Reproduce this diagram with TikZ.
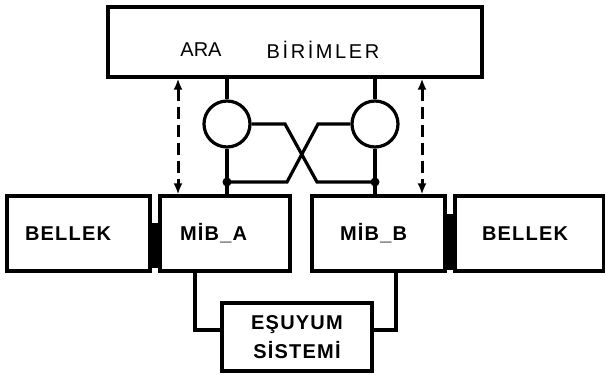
\documentclass[tikz,border=0pt]{standalone}
\usepackage{fontspec}
\setmainfont{Liberation Sans}
\usetikzlibrary{arrows.meta,calc}
\begin{document}
\begin{tikzpicture}[x=1pt,y=1pt,
  box/.style={draw,line width=3.2pt,inner sep=0pt},
  lbl/.style={font=\fontsize{20}{29}\selectfont\bfseries\addfontfeature{LetterSpace=6},align=left,minimum height=75pt,inner ysep=0pt},
  toptext/.style={font=\fontsize{20}{24}\selectfont,inner sep=0pt},
  wire/.style={line width=3.2pt},
  dasharrow/.style={line width=3pt,dash pattern=on 12pt off 6pt,{Latex[length=11pt,width=9pt]}-{Latex[length=11pt,width=9pt]}},
  link/.style={fill=black},
  jdot/.style={circle,fill=black,inner sep=0pt,minimum size=9pt}]
\useasboundingbox (0,0) rectangle (605,376);
% top box
\node[box,minimum width=374pt,minimum height=70pt] (top) at (295,334) {};
\node[toptext] (ara) at (201,326) {ARA};
\node[toptext,font=\fontsize{20}{24}\selectfont\addfontfeature{LetterSpace=13}] (bir) at (323,326) {BİRİMLER};
% bottom row
\node[box,lbl,inner xsep=18pt,text width=107pt] (bellekL) at (78.5,142.5) {BELLEK};
\node[box,lbl,inner xsep=20pt,text width=90pt] (mibA) at (225,142.5) {MİB\_A};
\node[box,lbl,inner xsep=28pt,text width=77pt] (mibB) at (378.5,142.5) {MİB\_B};
\node[box,lbl,inner xsep=27pt,text width=95pt] (bellekR) at (529.5,142.5) {BELLEK};
% esuyum
\node[box,font=\fontsize{20}{29}\selectfont\bfseries\addfontfeature{LetterSpace=6},align=center,minimum width=150pt,minimum height=68pt] (es) at (297,39) {EŞUYUM\\SİSTEMİ};
% links between memory and MIB
\fill[link] ($(bellekL.east)+(0,-34)$) rectangle ($(mibA.west)+(0,11)$);
\fill[link] ($(mibB.east)+(0,-36)$) rectangle ($(bellekR.west)+(0,20)$);
% circles
\node[draw,circle,line width=3.2pt,minimum size=46pt,inner sep=0pt] (cA) at (227,252) {};
\node[draw,circle,line width=3.2pt,minimum size=46pt,inner sep=0pt] (cB) at (375,252) {};
\node[jdot] (jA) at (227,194) {};
\node[jdot] (jB) at (375,194) {};
% verticals
\draw[wire] (cA.north) -- (cA.north |- top.south);
\draw[wire] (cB.north) -- (cB.north |- top.south);
\draw[wire] (cA.south) -- (jA.center) -- (jA.center |- mibA.north);
\draw[wire] (cB.south) -- (jB.center) -- (jB.center |- mibB.north);
% crossing
\draw[wire] (cA.east) -- (285,252) -- (317,194) -- (jB.center);
\draw[wire] (cB.west) -- (318,252) -- (287,194) -- (jA.center);
% dashed arrows
\coordinate (dL) at (178,0);
\coordinate (dR) at (422,0);
\draw[dasharrow] (dL |- top.south) -- (dL |- mibA.north);
\draw[dasharrow] (dR |- top.south) -- (dR |- mibB.north);
% to esuyum
\coordinate (bA) at (195,0);
\coordinate (bB) at (396,0);
\draw[wire] (bA |- mibA.south) -- (bA |- 0,46) -- (es.west |- 0,46);
\draw[wire] (bB |- mibB.south) -- (bB |- 0,46) -- (es.east |- 0,46);
\end{tikzpicture}
\end{document}
